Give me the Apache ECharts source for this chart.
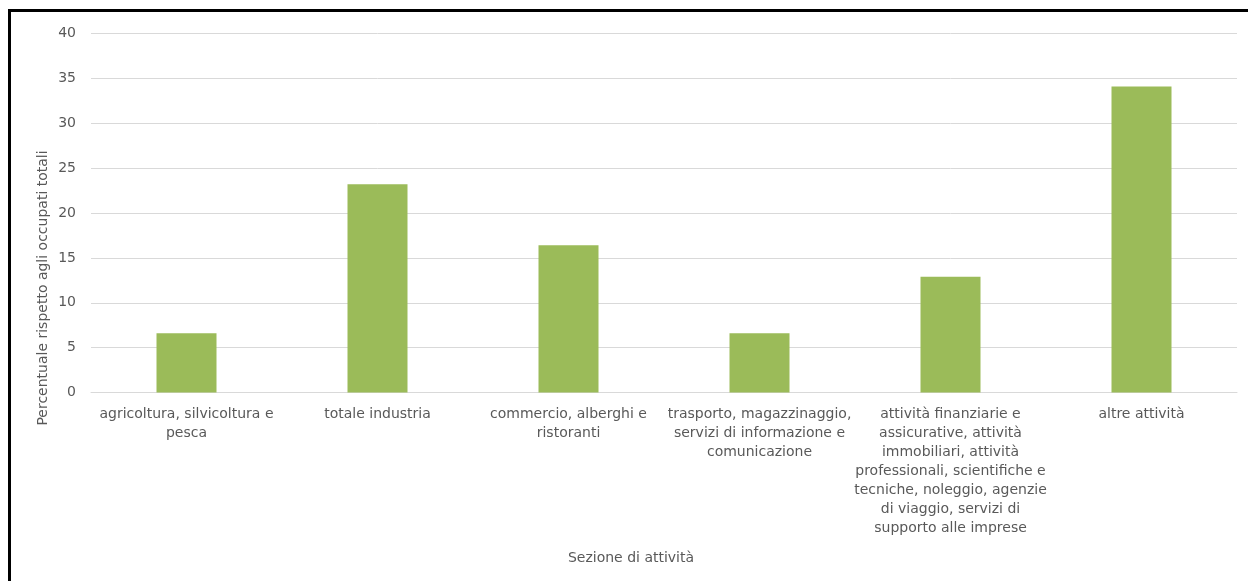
<!DOCTYPE html>
<html>
<head>
<meta charset="utf-8">
<script src="https://cdn.jsdelivr.net/npm/echarts@6/dist/echarts.min.js"></script>
<style>
  html, body { margin: 0; padding: 0; background: #fff; }
  #wrap { position: relative; width: 1248px; height: 581px; overflow: hidden; }
  #chart { position: absolute; left: 0; top: 0; width: 1248px; height: 581px; }
  #frame { position: absolute; left: 8px; top: 9px; width: 1300px; height: 700px;
           border-top: 3px solid #000; border-left: 3px solid #000; pointer-events: none; }
</style>
</head>
<body>
<div id="wrap">
  <div id="chart"></div>
  <div id="frame"></div>
</div>
<script>
const categories = [
  "agricoltura, silvicoltura e pesca",
  "totale industria",
  "commercio, alberghi e ristoranti",
  "trasporto, magazzinaggio, servizi di informazione e comunicazione",
  "attività finanziarie e assicurative, attività immobiliari, attività professionali, scientifiche e tecniche, noleggio, agenzie di viaggio, servizi di supporto alle imprese",
  "altre attività"
];
const tickLabels = [
  "agricoltura, silvicoltura e\npesca",
  "totale industria",
  "commercio, alberghi e\nristoranti",
  "trasporto, magazzinaggio,\nservizi di informazione e\ncomunicazione",
  "attività finanziarie e\nassicurative, attività\nimmobiliari, attività\nprofessionali, scientifiche e\ntecniche, noleggio, agenzie\ndi viaggio, servizi di\nsupporto alle imprese",
  "altre attività"
];
const values = [6.6, 23.2, 16.4, 6.6, 12.9, 34.1];
const yTicks = [0, 5, 10, 15, 20, 25, 30, 35, 40];
const xAxisTitle = "Sezione di attività";
const yAxisTitle = "Percentuale rispetto agli occupati totali";

const font = "DejaVu Sans, Verdana, sans-serif";
const chart = echarts.init(document.getElementById('chart'), null, { renderer: 'canvas' });
chart.setOption({
  animation: false,
  backgroundColor: '#ffffff',
  grid: { left: 91, right: 11, top: 33.5, bottom: 188.5, containLabel: false },
  xAxis: {
    type: 'category',
    data: categories,
    axisLine: { show: true, lineStyle: { color: '#d9d9d9', width: 1 } },
    axisTick: { show: false },
    axisLabel: {
      interval: 0,
      color: '#595959',
      fontFamily: font,
      fontSize: 14,
      lineHeight: 19,
      margin: 12,
      formatter: function (v, i) { return tickLabels[i]; }
    }
  },
  yAxis: {
    type: 'value',
    min: yTicks[0],
    max: yTicks[yTicks.length - 1],
    interval: yTicks[1] - yTicks[0],
    axisLine: { show: false },
    axisTick: { show: false },
    splitLine: { lineStyle: { color: '#d9d9d9', width: 1 } },
    axisLabel: { color: '#595959', fontFamily: font, fontSize: 14, margin: 15 }
  },
  series: [{
    type: 'bar',
    data: values,
    barWidth: 60,
    itemStyle: { color: '#9bbb59' }
  }],
  graphic: [
    {
      type: 'text',
      x: 631, y: 551,
      style: { text: xAxisTitle, fill: '#595959', font: '14px ' + font, align: 'center', verticalAlign: 'top' }
    },
    {
      type: 'text',
      x: 36, y: 288,
      rotation: Math.PI / 2,
      style: { text: yAxisTitle, fill: '#595959', font: '14px ' + font, align: 'center', verticalAlign: 'top' }
    }
  ]
});
</script>
</body>
</html>
